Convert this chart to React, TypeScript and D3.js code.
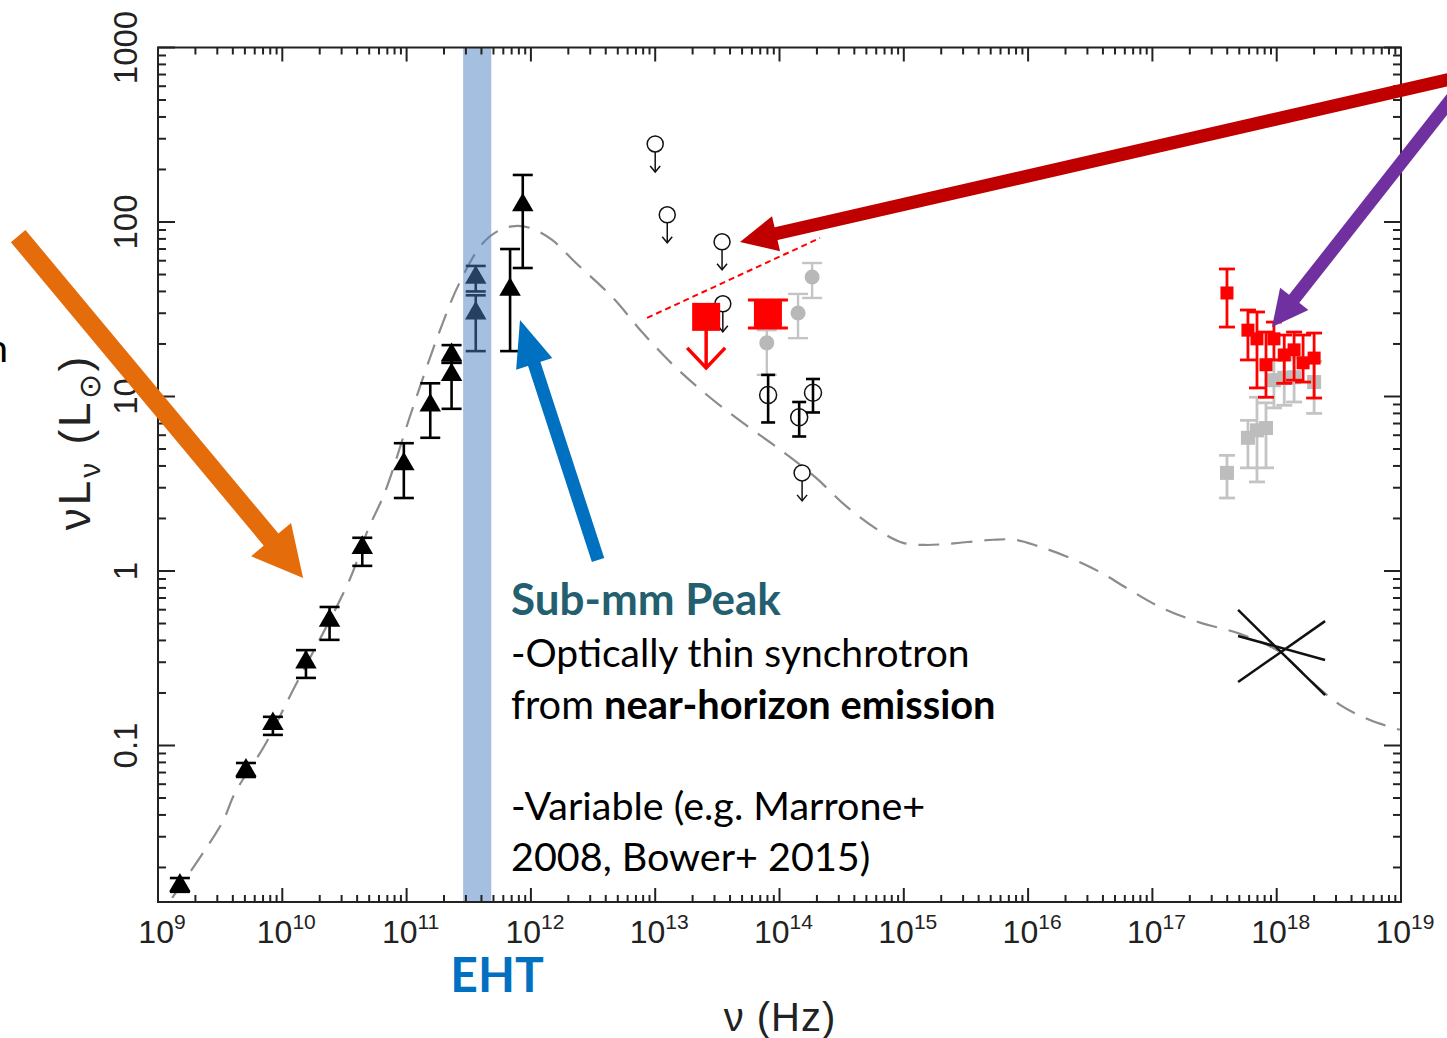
import React, { useEffect } from "react";
import * as d3 from "d3";

// radio / sub-mm detections (filled triangles)
const radioNu = [1.5e9, 5.1e9, 8.4e9, 1.55e10, 2.4e10, 4.4e10, 9.5e10, 1.55e11, 2.3e11, 2.3e11, 3.6e11, 3.6e11, 6.8e11, 8.6e11];
const radioL = [0.0158, 0.072, 0.133, 0.3, 0.52, 1.36, 4.1, 8.9, 17.3, 13.3, 48, 30, 41, 125];
const radioLo = [0.0145, 0.066, 0.115, 0.244, 0.403, 1.07, 2.62, 5.8, 15.6, 8.5, 40, 18.2, 18.2, 54.5];
const radioHi = [0.0174, 0.0794, 0.146, 0.352, 0.622, 1.55, 5.4, 11.9, 19.7, 15.6, 56, 38, 70, 186];

// IR upper limits (open circles + arrow)
const irLimNu = [1.0e13, 1.25e13, 3.45e13, 3.5e13, 1.52e14];
const irLimL = [280, 110, 77, 34, 3.65];

// IR quiescent detections (open circles)
const irNu = [8.1e13, 1.44e14, 1.86e14];
const irL = [10.2, 7.6, 10.5];
const irLo = [7.1, 5.9, 8.1];
const irHi = [13.3, 9.3, 12.6];

// IR flares (grey dots)
const flareNu = [7.9e13, 1.41e14, 1.83e14];
const flareL = [20.3, 30.1, 48.4];
const flareLo = [13.3, 21.6, 36.7];
const flareHi = [24, 38.7, 58.2];

// big red squares (mid-IR)
const midIrNu = [2.57e13, 8.07e13];
const midIrL = [28.6, 29.7];
const midIrLo = [null, 24.7];
const midIrHi = [null, 35.7];

// X-ray flare (red squares)
const xFlareNu = [3.98e17, 5.87e17, 6.94e17, 8.2e17, 9.5e17, 1.15e18, 1.38e18, 1.63e18, 2.0e18];
const xFlareL = [39.2, 24.0, 21.4, 15.2, 21.4, 17.3, 18.5, 15.6, 16.6];
const xFlareLo = [25.0, 16.2, 11.2, 9.9, 16.2, 11.9, 12.4, 12.1, 9.8];
const xFlareHi = [53.8, 31.3, 30.5, 23.4, 26.7, 22.5, 23.4, 22.5, 23.1];

// X-ray (grey squares)
const xGreyNu = [3.98e17, 5.87e17, 6.94e17, 8.2e17, 9.5e17, 1.15e18, 1.38e18, 2.0e18];
const xGreyL = [3.65, 5.8, 6.4, 6.6, 12.4, 12.8, 12.9, 12.1];
const xGreyLo = [2.62, 3.9, 3.24, 3.9, 8.6, 8.9, 9.3, 8.0];
const xGreyHi = [4.6, 7.3, 9.9, 9.2, 16.2, 16.2, 16.6, 15.9];

// quiescent X-ray bow tie
const bowNuLo = 4.89e17;
const bowNuHi = 2.45e18;
const bowLeft = [0.598, 0.231, 0.424];
const bowRight = [0.1945, 0.516, 0.309];

// model (dashed)
const modelNu = [1.3e9, 3.27e9, 4.16e9, 7.26e9, 1.2e10, 3.5e10, 4.8e10, 6.7e10, 1.1e11, 1.82e11, 2.64e11, 4.05e11, 5.64e11, 7.45e11, 9.84e11, 1.48e12, 2.26e12, 4.58e12, 7.83e12, 1.39e13, 2.61e13, 5.08e13, 9.7e13, 1.93e14, 3.49e14, 6.8e14, 9.86e14, 1.48e15, 2.27e15, 5.22e15, 7.85e15, 1.2e16, 2.17e16, 3.79e16, 6.6e16, 1.15e17, 2.33e17, 5.07e17, 1.06e18, 1.85e18, 3.23e18, 5.63e18, 9.8e18];
const modelL = [0.0134, 0.036, 0.0535, 0.101, 0.203, 0.9, 1.67, 2.84, 8.26, 23.1, 44.2, 74.8, 90, 94.8, 92.5, 78.9, 59, 36.7, 23.4, 15.2, 10.2, 7.05, 5.07, 3.46, 2.33, 1.65, 1.45, 1.41, 1.43, 1.51, 1.51, 1.39, 1.19, 0.986, 0.778, 0.622, 0.51, 0.436, 0.343, 0.237, 0.171, 0.14, 0.123];

// EHT band
const ehtBand = [2.85e11, 4.8e11];

// axis ticks
const xTickExp = [9, 10, 11, 12, 13, 14, 15, 16, 17, 18, 19];
const yTickVals = [0.1, 1, 10, 100, 1000];
const yTickLabels = ["0.1", "1", "10", "100", "1000"];

const width = 1447;
const height = 1038;
const plotLeft = 158;
const plotRight = 1401;
const plotTop = 47.5;
const plotBottom = 902;

const x = d3.scaleLog().domain([1e9, 1e19]).range([plotLeft, plotRight]);
const y = d3.scaleLog().domain([0.01268, 1000]).range([plotBottom, plotTop]);

const tickFont = "'Liberation Sans', Arial, sans-serif";
const textFont = "Lato, 'Open Sans', sans-serif";

const Arrow = ({ from, to, color, sw, headLen, headW }: any) => {
  const x0 = x(from[0]), y0 = y(from[1]);
  const x1 = x(to[0]), y1 = y(to[1]);
  const len = Math.hypot(x1 - x0, y1 - y0);
  const ux = (x1 - x0) / len, uy = (y1 - y0) / len;
  const bx = x1 - ux * headLen, by = y1 - uy * headLen;
  const px = -uy, py = ux;
  const head = `M${x1},${y1}L${bx + px * headW / 2},${by + py * headW / 2}L${bx - px * headW / 2},${by - py * headW / 2}Z`;
  return (
    <g>
      <line x1={x0} y1={y0} x2={bx + ux * 2} y2={by + uy * 2} stroke={color} strokeWidth={sw} />
      <path d={head} fill={color} />
    </g>
  );
};

const ErrBar = ({ nu, lo, hi, cap, color, sw }: any) => {
  const cx = x(nu);
  return (
    <g stroke={color} strokeWidth={sw}>
      <line x1={cx} x2={cx} y1={y(lo)} y2={y(hi)} />
      <line x1={cx - cap / 2} x2={cx + cap / 2} y1={y(lo)} y2={y(lo)} />
      <line x1={cx - cap / 2} x2={cx + cap / 2} y1={y(hi)} y2={y(hi)} />
    </g>
  );
};

const App = () => {
  useEffect(() => {
    document.body.style.margin = "0";
    document.body.style.overflow = "hidden";
  }, []);

  const xTicks: { v: number; major: boolean }[] = [];
  for (let e = 9; e < 19; e++) for (let k = 1; k < 10; k++) xTicks.push({ v: k * 10 ** e, major: k === 1 });
  xTicks.push({ v: 1e19, major: true });
  const yTicks: { v: number; major: boolean }[] = [];
  for (let e = -2; e < 3; e++)
    for (let k = 1; k < 10; k++) {
      const v = k * 10 ** e;
      if (v >= 0.0127 && v < 1000) yTicks.push({ v, major: k === 1 });
    }
  yTicks.push({ v: 1000, major: true });

  const model = d3
    .line<number>()
    .x((_, i) => x(modelNu[i]))
    .y((d) => y(d))
    .curve(d3.curveCatmullRom);

  const tri = d3.symbol(d3.symbolTriangle, 200)() as string;

  return (
    <svg width={width} height={height} style={{ position: "absolute", left: 0, top: 0, display: "block", background: "#fff" }}>
      <rect width={width} height={height} fill="#fff" />

      {/* model curve */}
      <path d={model(modelL) as string} fill="none" stroke="#8c8c8c" strokeWidth={2.2} strokeDasharray="21,12" />

      {/* bow tie */}
      <g stroke="#111" strokeWidth={2.5}>
        {bowLeft.map((l, i) => (
          <line key={i} x1={x(bowNuLo)} y1={y(l)} x2={x(bowNuHi)} y2={y(bowRight[i])} />
        ))}
      </g>

      {/* radio triangles */}
      {radioNu.map((nu, i) => (
        <g key={"r" + i}>
          <ErrBar nu={nu} lo={radioLo[i]} hi={radioHi[i]} cap={20} color="#000" sw={2.6} />
          <path d={tri} transform={`translate(${x(nu)},${y(radioL[i])})`} fill="#000" />
        </g>
      ))}

      {/* IR flares grey */}
      {flareNu.map((nu, i) => (
        <g key={"f" + i}>
          <ErrBar nu={nu} lo={flareLo[i]} hi={flareHi[i]} cap={20} color="#c4c4c4" sw={2.4} />
          <circle cx={x(nu)} cy={y(flareL[i])} r={7.5} fill="#b8b8b8" />
        </g>
      ))}

      {/* IR detections */}
      {irNu.map((nu, i) => (
        <g key={"d" + i}>
          <ErrBar nu={nu} lo={irLo[i]} hi={irHi[i]} cap={14} color="#000" sw={2.6} />
          <circle cx={x(nu)} cy={y(irL[i])} r={8.5} fill="none" stroke="#111" strokeWidth={1.5} />
        </g>
      ))}

      {/* IR upper limits */}
      {irLimNu.map((nu, i) => {
        const cx = x(nu), cy = y(irLimL[i]);
        return (
          <g key={"u" + i} stroke="#111" strokeWidth={1.5} fill="none">
            <circle cx={cx} cy={cy} r={8} />
            <line x1={cx} x2={cx} y1={cy + 8} y2={cy + 28} />
            <path d={`M${cx - 5},${cy + 22}L${cx},${cy + 28}L${cx + 5},${cy + 22}`} />
          </g>
        );
      })}

      {/* big red squares */}
      {midIrNu.map((nu, i) => {
        const cx = x(nu), cy = y(midIrL[i]);
        return (
          <g key={"m" + i}>
            {midIrLo[i] !== null ? (
              <ErrBar nu={nu} lo={midIrLo[i]} hi={midIrHi[i]} cap={40} color="#ff0000" sw={3} />
            ) : (
              <g stroke="#ff0000" strokeWidth={3.5} fill="none">
                <line x1={cx} x2={cx} y1={cy + 12} y2={cy + 51} />
                <path d={`M${cx - 19},${cy + 31}L${cx},${cy + 51}L${cx + 19},${cy + 31}`} />
              </g>
            )}
            <rect x={cx - 14} y={cy - 14} width={28} height={28} fill="#ff0000" />
          </g>
        );
      })}

      {/* X-ray grey */}
      {xGreyNu.map((nu, i) => (
        <g key={"g" + i}>
          <ErrBar nu={nu} lo={xGreyLo[i]} hi={xGreyHi[i]} cap={16} color="#c4c4c4" sw={2.8} />
          <rect x={x(nu) - 7} y={y(xGreyL[i]) - 7} width={14} height={14} fill="#bdbdbd" />
        </g>
      ))}

      {/* X-ray flare red */}
      {xFlareNu.map((nu, i) => (
        <g key={"x" + i}>
          <ErrBar nu={nu} lo={xFlareLo[i]} hi={xFlareHi[i]} cap={16} color="#ff0000" sw={2.8} />
          <rect x={x(nu) - 6.5} y={y(xFlareL[i]) - 6.5} width={13} height={13} fill="#ff0000" />
        </g>
      ))}

      {/* red dashed line */}
      <line x1={x(8.6e12)} y1={y(28.2)} x2={x(2.12e14)} y2={y(81)} stroke="#ff0000" strokeWidth={2} strokeDasharray="6,4" />

      {/* EHT band */}
      <rect x={x(ehtBand[0])} y={plotTop} width={x(ehtBand[1]) - x(ehtBand[0])} height={plotBottom - plotTop} fill="#4a80c0" fillOpacity={0.5} />

      {/* frame and ticks */}
      <g stroke="#222" strokeWidth={2}>
        <rect x={plotLeft} y={plotTop} width={plotRight - plotLeft} height={plotBottom - plotTop} fill="none" />
        {xTicks.map((t, i) => (
          <g key={"xt" + i}>
            <line x1={x(t.v)} x2={x(t.v)} y1={plotBottom} y2={plotBottom - (t.major ? 14 : 7)} />
            <line x1={x(t.v)} x2={x(t.v)} y1={plotTop} y2={plotTop + (t.major ? 14 : 7)} />
          </g>
        ))}
        {yTicks.map((t, i) => (
          <g key={"yt" + i}>
            <line x1={plotLeft} x2={plotLeft + (t.major ? 17 : 8)} y1={y(t.v)} y2={y(t.v)} />
            <line x1={plotRight} x2={plotRight - (t.major ? 17 : 8)} y1={y(t.v)} y2={y(t.v)} />
          </g>
        ))}
      </g>

      {/* tick labels */}
      <g fontFamily={tickFont} fill="#222">
        {xTickExp.map((e) => (
          <text key={"xl" + e} x={x(10 ** e) + 4} y={943} textAnchor="middle" fontSize={32}>
            <tspan>10</tspan>
            <tspan dy={-14} fontSize={21}>{e}</tspan>
          </text>
        ))}
        {yTickVals.map((v, i) => (
          <text key={"yl" + i} transform={`translate(137,${y(v)}) rotate(-90)`} textAnchor="middle" fontSize={33}>
            {yTickLabels[i]}
          </text>
        ))}
      </g>

      {/* axis titles */}
      <text x={780} y={1031} textAnchor="middle" fontFamily={tickFont} fontSize={40} fill="#222" letterSpacing={1}>
        ν  (Hz)
      </text>
      <text transform="translate(90,442) rotate(-90)" textAnchor="middle" fontFamily={tickFont} fontSize={44} fill="#222" letterSpacing={3}>
        νL<tspan dy={10} fontSize={30}>ν</tspan>
        <tspan dy={-10}>  (L</tspan>
        <tspan dy={10} fontSize={30}>⊙</tspan>
        <tspan dy={-10}>)</tspan>
      </text>

      {/* annotation text */}
      <text x={497} y={992} textAnchor="middle" fontFamily={textFont} fontWeight="bold" fontSize={48} fill="#0070c0">
        EHT
      </text>
      <g fontFamily={textFont} fontSize={39.5} fill="#000">
        <text x={511} y={615} fontWeight="bold" fontSize={44} fill="#245f6f">Sub-mm Peak</text>
        <text x={511} y={667} fontSize={39}>-Optically thin synchrotron</text>
        <text x={511} y={719} fontSize={39.8}>
          from <tspan fontWeight="bold">near-horizon emission</tspan>
        </text>
        <text x={511} y={820}>-Variable (e.g. Marrone+</text>
        <text x={511} y={871}>2008, Bower+ 2015)</text>
        <text x={8} y={362} textAnchor="end">n</text>
      </g>

      {/* arrows */}
      <Arrow from={[7.5e7, 83]} to={[1.47e10, 0.912]} color="#e46c0a" sw={19} headLen={50} headW={52} />
      <Arrow from={[3.47e12, 1.156]} to={[8.17e11, 27.4]} color="#0070c0" sw={13} headLen={46} headW={38} />
      <Arrow from={[2.98e19, 678]} to={[4.81e13, 76.8]} color="#c00000" sw={13} headLen={37} headW={36} />
      <Arrow from={[2.98e19, 586]} to={[9.17e17, 25.0]} color="#7030a0" sw={13} headLen={36} headW={36} />
    </svg>
  );
};

export default App;
